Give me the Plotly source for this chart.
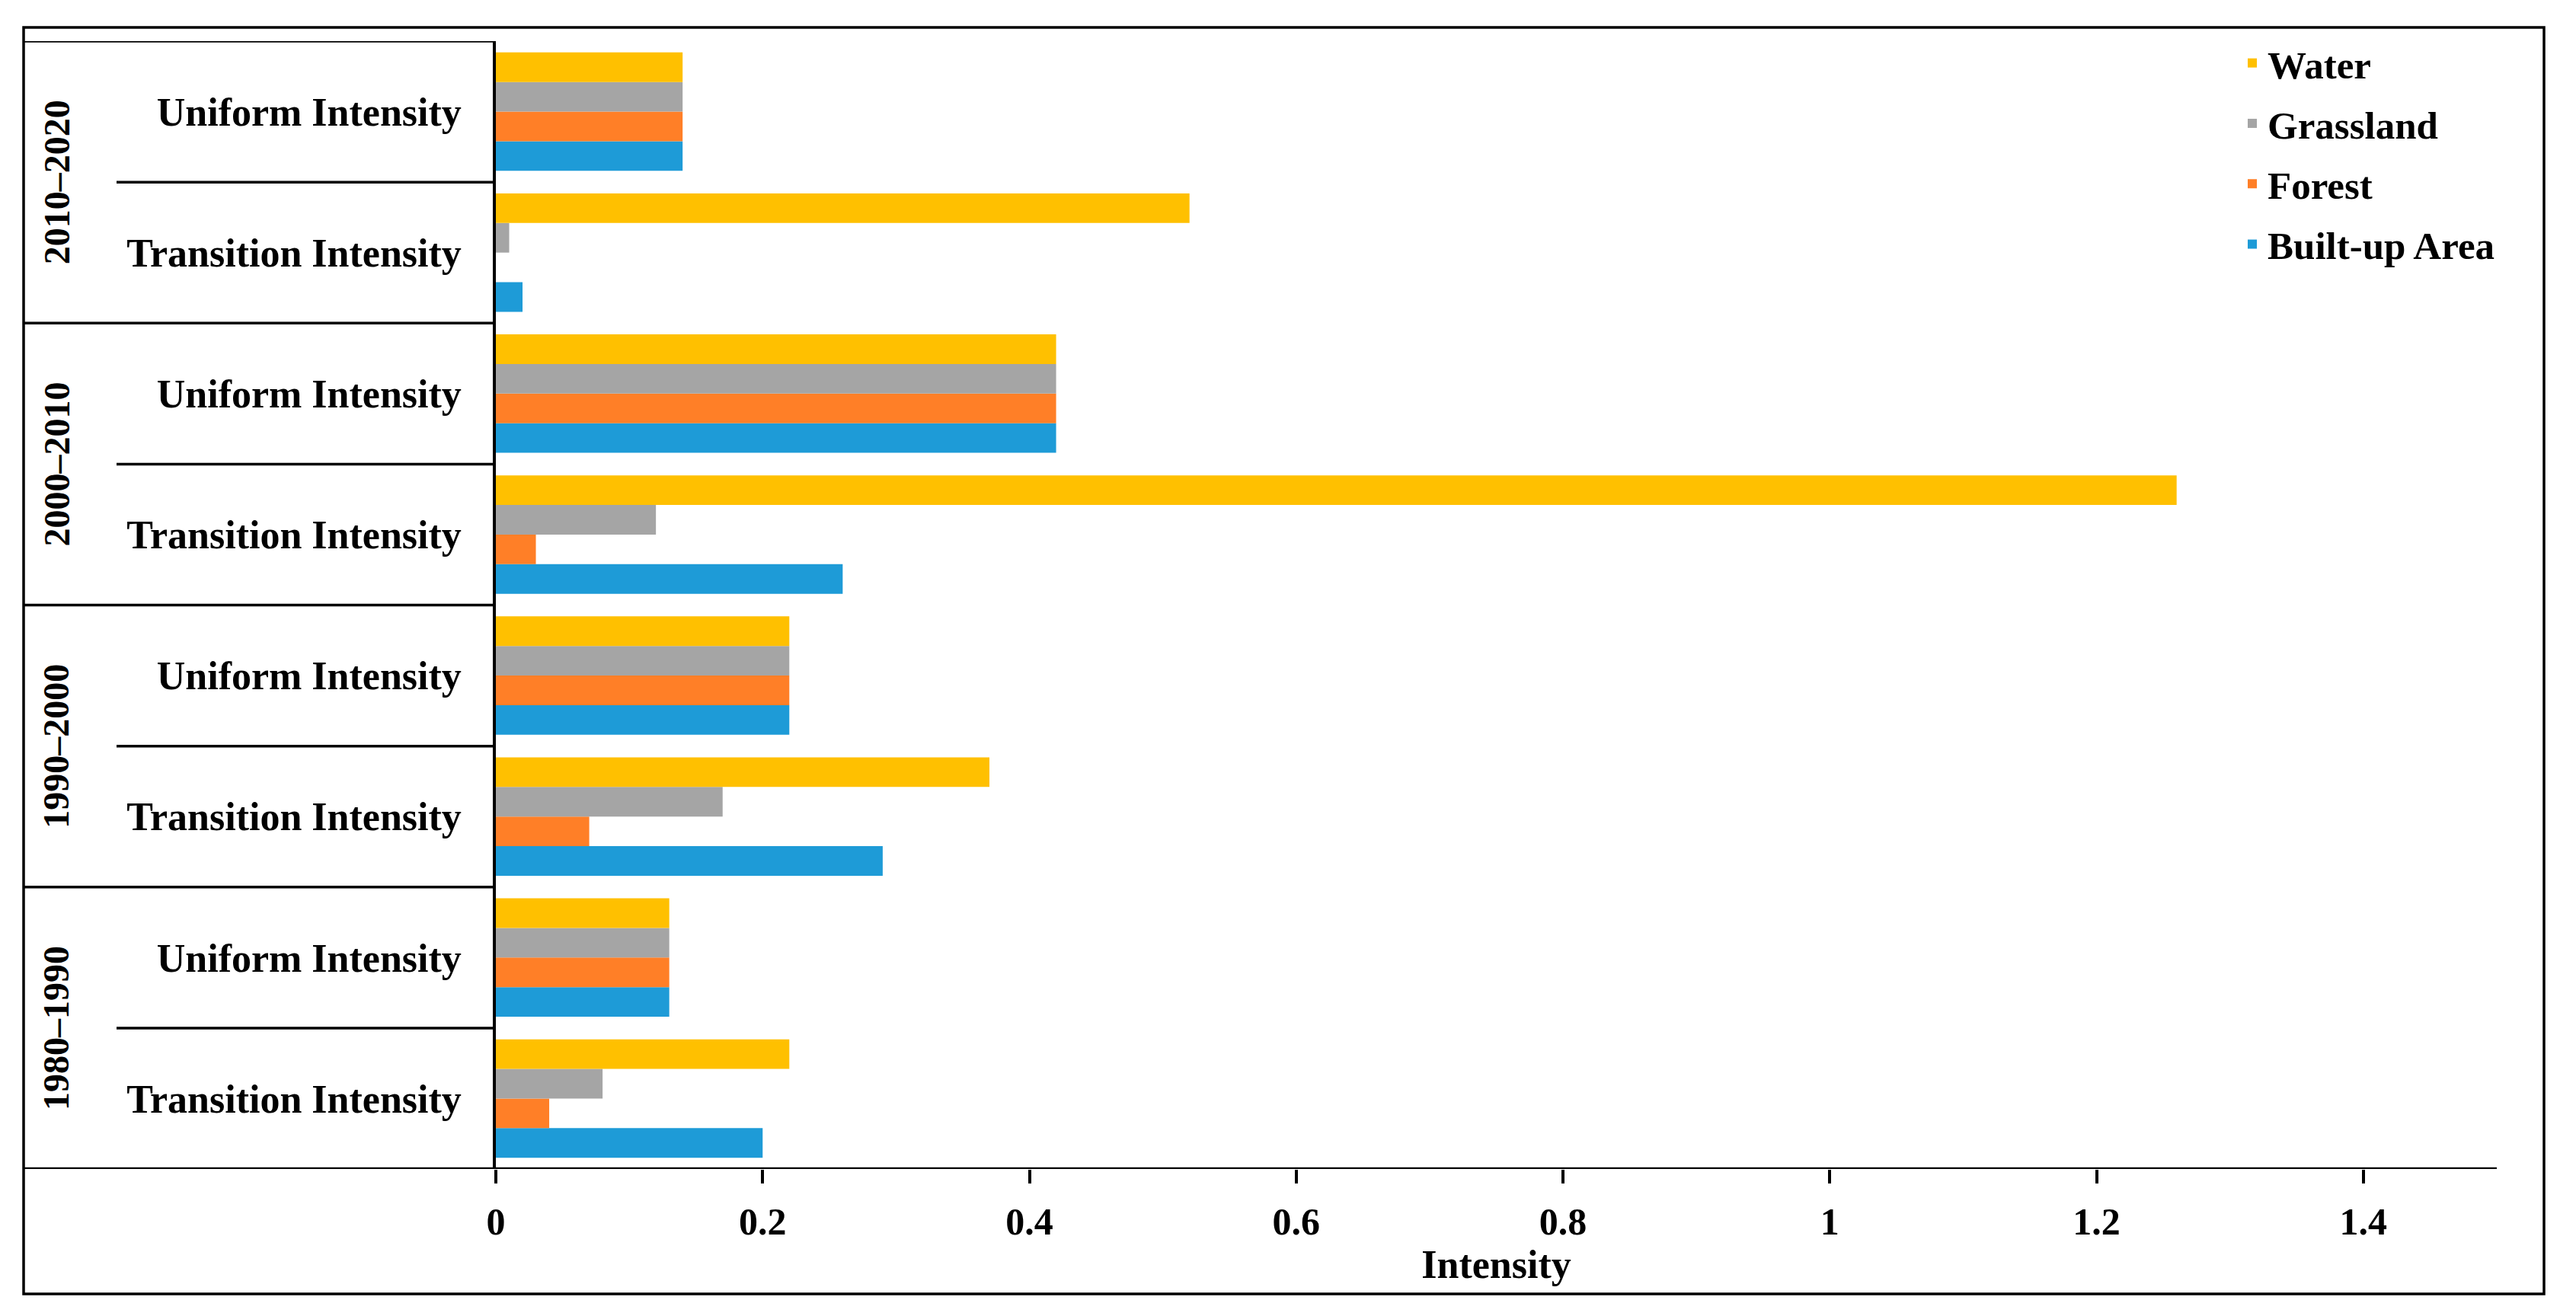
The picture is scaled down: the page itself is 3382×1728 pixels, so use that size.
import plotly.graph_objects as go

# ---- data ----
periods = ["1980–1990", "1990–2000", "2000–2010", "2010–2020"]
types = ["Transition Intensity", "Uniform Intensity"]
series_names = ["Built-up Area", "Forest", "Grassland", "Water"]
series_colors = ["#1E9BD7", "#FF7F27", "#A5A5A5", "#FFC000"]
legend_ranks = [4, 3, 2, 1]

# order of categories (bottom -> top):
# 1980–1990 Transition, 1980–1990 Uniform, 1990–2000 Transition, ...
built_up = [0.20, 0.13, 0.29, 0.22, 0.26, 0.42, 0.02, 0.14]
forest = [0.04, 0.13, 0.07, 0.22, 0.03, 0.42, 0.00, 0.14]
grassland = [0.08, 0.13, 0.17, 0.22, 0.12, 0.42, 0.01, 0.14]
water = [0.22, 0.13, 0.37, 0.22, 1.26, 0.42, 0.52, 0.14]

x_tick_vals = [0, 0.2, 0.4, 0.6, 0.8, 1.0, 1.2, 1.4]
x_tick_text = ["0", "0.2", "0.4", "0.6", "0.8", "1", "1.2", "1.4"]

series_values = [built_up, forest, grassland, water]

cat_keys = [f"{p} {t}" for p in periods for t in types]
cat_text = [t for p in periods for t in types]

FONT = "Liberation Serif"
SW, SH = 3382, 1728          # screenshot size
OFF = 8                      # default body margin of the page
W, H = SW - OFF, SH - OFF    # figure size
PLOT_L, PLOT_R, PLOT_T, PLOT_B = 651, 3278, 54, 1535   # target screen px
ML, MT = PLOT_L - OFF, PLOT_T - OFF
MR, MB = W - (PLOT_R - OFF), H - (PLOT_B - OFF)
PW = PLOT_R - PLOT_L
PH = PLOT_B - PLOT_T


def px_x(px):
    return (px - PLOT_L) / PW


def px_y(py):
    return (PLOT_B - py) / PH


fig = go.Figure()
for name, color, vals, rank in zip(series_names, series_colors, series_values, legend_ranks):
    fig.add_trace(go.Bar(
        y=cat_keys, x=vals, name=name, orientation="h",
        marker=dict(color=color, line=dict(width=0)),
        legendgroup=name, legendrank=rank,
    ))

shapes = []
line_w = 3.5
# outer frame
shapes.append(dict(type="rect", xref="paper", yref="paper",
                   x0=px_x(31), x1=px_x(3340), y0=px_y(1699), y1=px_y(36),
                   line=dict(color="black", width=line_w)))
# table top line
shapes.append(dict(type="line", xref="paper", yref="y",
                   x0=px_x(31), x1=0, y0=len(cat_keys) - 0.5, y1=len(cat_keys) - 0.5,
                   line=dict(color="black", width=line_w)))
# bottom line extends under table
shapes.append(dict(type="line", xref="paper", yref="y",
                   x0=px_x(31), x1=1, y0=-0.5, y1=-0.5,
                   line=dict(color="black", width=4.5)))
# group separators and sub separators
for i in range(len(periods)):
    if i > 0:
        yv = 2 * i - 0.5
        shapes.append(dict(type="line", xref="paper", yref="y",
                           x0=px_x(31), x1=0, y0=yv, y1=yv,
                           line=dict(color="black", width=line_w)))
    yv = 2 * i + 0.5
    shapes.append(dict(type="line", xref="paper", yref="y",
                       x0=px_x(153), x1=0, y0=yv, y1=yv,
                       line=dict(color="black", width=line_w)))

annotations = []
for i, p in enumerate(periods):
    annotations.append(dict(
        text=p, xref="paper", yref="y", x=px_x(74), y=2 * i + 0.5,
        textangle=-90, showarrow=False, xanchor="center", yanchor="middle",
        font=dict(family=FONT, size=48, color="black", weight="bold"),
    ))

fig.update_layout(
    width=W, height=H,
    margin=dict(l=ML, r=MR, t=MT, b=MB, pad=0),
    paper_bgcolor="white", plot_bgcolor="white",
    barmode="group", bargap=0.16, bargroupgap=0,
    font=dict(family=FONT, size=50, color="black", weight="bold"),
    showlegend=True,
    legend=dict(
        x=px_x(2937), y=px_y(43), xanchor="left", yanchor="top",
        traceorder="grouped", tracegroupgap=10,
        font=dict(family=FONT, size=51, color="black", weight="bold"),
        bgcolor="rgba(0,0,0,0)", borderwidth=0,
    ),
    shapes=shapes,
    annotations=annotations,
    xaxis=dict(
        range=[0, 1.5], tickmode="array", tickvals=x_tick_vals, ticktext=x_tick_text,
        showgrid=False, zeroline=False, showline=False,
        ticks="outside", ticklen=18, tickwidth=3.5, tickcolor="black",
        ticklabelstandoff=7,
        tickfont=dict(family=FONT, size=50, color="black", weight="bold"),
        title=dict(text="Intensity", standoff=5,
                   font=dict(family=FONT, size=52, color="black", weight="bold")),
    ),
    yaxis=dict(
        type="category", categoryorder="array", categoryarray=cat_keys,
        tickmode="array", tickvals=cat_keys, ticktext=cat_text,
        range=[-0.5, len(cat_keys) - 0.5],
        showgrid=False, zeroline=False,
        showline=True, linecolor="black", linewidth=3.5,
        ticks="", ticklabelstandoff=31,
        tickfont=dict(family=FONT, size=52, color="black", weight="bold"),
    ),
)

fig.write_html("out.html")
